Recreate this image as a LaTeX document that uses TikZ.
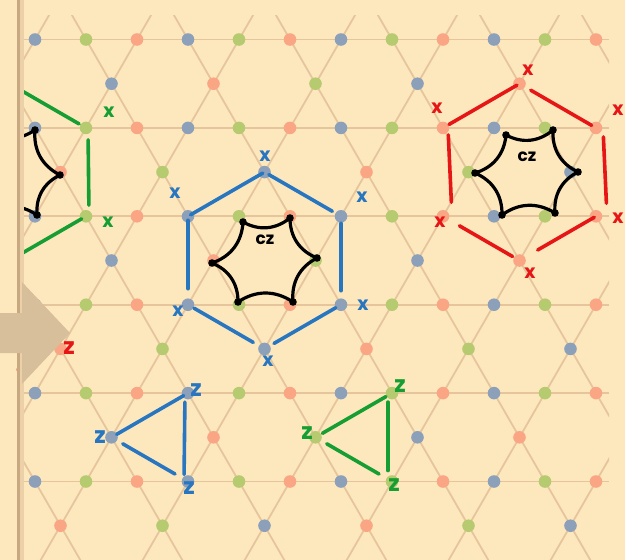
\documentclass[tikz,border=0pt]{standalone}
\usepackage{fontspec}
\newfontfamily\hand{Poppins}
\usetikzlibrary{calc}
\definecolor{bg}{RGB}{253,232,190}
\definecolor{latline}{RGB}{230,197,156}
\definecolor{dotblue}{RGB}{140,160,186}
\definecolor{dotgreen}{RGB}{182,202,112}
\definecolor{dotsalmon}{RGB}{250,166,132}
\definecolor{hblue}{RGB}{40,118,192}
\definecolor{hgreen}{RGB}{22,158,50}
\definecolor{hred}{RGB}{230,22,22}
\definecolor{arrowtan}{RGB}{216,191,156}
\definecolor{borderdark}{RGB}{200,168,128}
\definecolor{bordershade}{RGB}{236,208,168}
\tikzset{
  latl/.style={draw=latline, line width=1.8pt},
  hstroke/.style={line width=3.6pt, line cap=round},
  curvy/.style={draw=black, line width=3.2pt, line cap=round, line join=round},
  bdot/.style={fill=black},
  xlab/.style={font=\hand\bfseries\fontsize{19}{19}\selectfont, inner sep=0pt},
  zlab/.style={font=\hand\bfseries\fontsize{23}{23}\selectfont, inner sep=0pt},
  czlab/.style={font=\hand\bfseries\fontsize{17}{17}\selectfont, inner sep=0pt},
}
\begin{document}
\begin{tikzpicture}[x=1pt,y=-1pt]
\useasboundingbox (0,0) rectangle (625,560);
\fill[bg] (0,0) rectangle (625,560);
\def\A{51}\def\H{88.4}\def\XO{35}\def\YO{39.5}
% ---------------- kagome lattice ----------------
\begin{scope}
\clip (19,15) rectangle (609,560);
\foreach \k in {0,...,5}
  \draw[latl] (19,{\YO+\k*\H}) -- (609,{\YO+\k*\H});
\foreach \p in {-13,-11,...,13}
  \draw[latl] ({\XO+\A*(\p-0.5)},{\YO-0.5*\H}) -- ({\XO+\A*(\p+6.5)},{\YO+6.5*\H});
\foreach \p in {0,2,...,20}
  \draw[latl] ({\XO+\A*(\p+0.5)},{\YO-0.5*\H}) -- ({\XO+\A*(\p-6.5)},{\YO+6.5*\H});
\foreach \k in {0,...,5}{
  \foreach \p in {0,...,11}{
    \pgfmathtruncatemacro\ci{mod(\p,3)}
    \ifcase\ci\def\col{dotblue}\or\def\col{dotgreen}\else\def\col{dotsalmon}\fi
    \fill[\col] ({\XO+\A*\p},{\YO+\k*\H}) circle[radius=6.3pt];
  }
  \foreach \j in {-1,...,6}{
    \pgfmathtruncatemacro\q{mod(\k,2)+2*\j}
    \pgfmathtruncatemacro\ci{mod(\q+30,3)}
    \ifcase\ci\def\col{dotblue}\or\def\col{dotgreen}\else\def\col{dotsalmon}\fi
    \fill[\col] ({\XO+\A*(\q+1.5)},{\YO+(\k+0.5)*\H}) circle[radius=6.3pt];
  }
}
\end{scope}

% ---------------- left (clipped) green hexagon ----------------
\begin{scope}
\clip (19,0) rectangle (625,560);
\coordinate (gT) at (9.5,83.7);
\coordinate (gUR) at (86,127.9);
\coordinate (gLR) at (86,216.3);
\coordinate (gB) at (9.5,260.5);
\draw[hstroke, hgreen, shorten >=8pt] (gT) -- (gUR);
\draw[hstroke, hgreen, shorten <=12pt, shorten >=11pt] ([xshift=2pt]gUR) -- ([xshift=3pt]gLR);
\draw[hstroke, hgreen, shorten <=5pt] (gLR) -- (gB);
\coordinate (k1) at (-16,130);
\coordinate (k2) at (35,130);
\coordinate (k3) at (60,175);
\coordinate (k4) at (37,215);
\coordinate (k5) at (-16,215);
\coordinate (k6) at (-40,173);
\draw[curvy] (k1) to[bend right=34] (k2) to[bend right=34] (k3) to[bend right=34] (k4)
  to[bend right=34] (k5) to[bend right=34] (k6) to[bend right=34] (k1);
\foreach \v in {k2,k3,k4} \fill[bdot] (\v) circle[radius=3.8pt];
\node[czlab] (czl) at (8,158) {cz};
\end{scope}
\node[xlab, text=hgreen] (gx1) at (109,112) {x};
\node[xlab, text=hgreen] (gx2) at (108,222) {x};

% ---------------- blue hexagon ----------------
\coordinate (bT) at (264.5,172.1);
\coordinate (bUL) at (188,216.3);
\coordinate (bUR) at (341,216.3);
\coordinate (bLL) at (188,304.7);
\coordinate (bLR) at (341,304.7);
\coordinate (bB) at (264.5,348.9);
\draw[hstroke, hblue, shorten <=2pt, shorten >=3pt] (bT) -- (bUL);
\draw[hstroke, hblue, shorten <=5pt, shorten >=10pt] (bT) -- (bUR);
\draw[hstroke, hblue, shorten <=4pt, shorten >=16pt] (bUL) -- (bLL);
\draw[hstroke, hblue, shorten <=7pt, shorten >=14pt] (bUR) -- (bLR);
\draw[hstroke, hblue, shorten <=7pt, shorten >=13pt] (bLL) -- (bB);
\draw[hstroke, hblue, shorten <=6pt, shorten >=11pt] (bLR) -- (bB);
\node[xlab, text=hblue] (bx1) at (265,156) {x};
\node[xlab, text=hblue] (bx2) at (175,193) {x};
\node[xlab, text=hblue] (bx3) at (362,197) {x};
\node[xlab, text=hblue] (bx4) at (363,305) {x};
\node[xlab, text=hblue] (bx5) at (178,311) {x};
\node[xlab, text=hblue] (bx6) at (268,361) {x};
\coordinate (c1) at (243,222);
\coordinate (c2) at (290,218);
\coordinate (c3) at (317,258);
\coordinate (c4) at (293,302);
\coordinate (c5) at (238,302);
\coordinate (c6) at (212,263);
\draw[curvy] (c1) to[bend right=34] (c2) to[bend right=34] (c3) to[bend right=34] (c4)
  to[bend right=34] (c5) to[bend right=34] (c6) to[bend right=34] (c1);
\foreach \v in {c1,c2,c3,c4,c5,c6} \fill[bdot] (\v) circle[radius=3.8pt];
\node[czlab] (czb) at (265,240) {cz};

% ---------------- red hexagon ----------------
\coordinate (rT) at (519.5,83.7);
\coordinate (rUL) at (443,127.9);
\coordinate (rUR) at (596,127.9);
\coordinate (rLL) at (443,216.3);
\coordinate (rLR) at (596,216.3);
\coordinate (rB) at (519.5,260.5);
\draw[hstroke, hred, shorten <=3pt, shorten >=7pt] (rT) -- (rUL);
\draw[hstroke, hred, shorten <=13pt, shorten >=5pt] (rT) -- (rUR);
\draw[hstroke, hred, shorten <=7pt, shorten >=14pt] ([xshift=5pt]rUL) -- ([xshift=9pt]rLL);
\draw[hstroke, hred, shorten <=9pt, shorten >=13pt] ([xshift=7pt]rUR) -- ([xshift=11pt]rLR);
\draw[hstroke, hred, shorten <=19pt, shorten >=8pt] (rLL) -- (rB);
\draw[hstroke, hred, shorten <=2pt, shorten >=21pt] (rLR) -- (rB);
\node[xlab, text=hred] (rx1) at (528,70) {x};
\node[xlab, text=hred] (rx2) at (437,108) {x};
\node[xlab, text=hred] (rx3) at (440,222) {x};
\node[xlab, text=hred] (rx4) at (530,273) {x};
\node[xlab, text=hred] (rx5) at (618,110) {x};
\node[xlab, text=hred] (rx6) at (618,218) {x};
\coordinate (d1) at (506,135);
\coordinate (d2) at (553,130);
\coordinate (d3) at (578,172);
\coordinate (d4) at (555,213);
\coordinate (d5) at (502,215);
\coordinate (d6) at (475,173);
\draw[curvy] (d1) to[bend right=34] (d2) to[bend right=34] (d3) to[bend right=34] (d4)
  to[bend right=34] (d5) to[bend right=34] (d6) to[bend right=34] (d1);
\foreach \v in {d1,d2,d3,d4,d5,d6} \fill[bdot] (\v) circle[radius=3.8pt];
\node[czlab] (czr) at (527,157) {cz};

% ---------------- blue triangle ----------------
\coordinate (tL) at (111.5,437.3);
\coordinate (tT) at (188,393.1);
\coordinate (tB) at (188,481.5);
\draw[hstroke, hblue, shorten <=6pt, shorten >=5pt] (tL) -- (tT);
\draw[hstroke, hblue, shorten <=9pt, shorten >=7pt] ([xshift=-3pt]tT) -- ([xshift=-4pt]tB);
\draw[hstroke, hblue, shorten <=13pt, shorten >=15pt] (tL) -- (tB);
\node[zlab, text=hblue] (tz1) at (100,437) {z};
\node[zlab, text=hblue] (tz2) at (196,390) {z};
\node[zlab, text=hblue] (tz3) at (189,488) {z};

% ---------------- green triangle ----------------
\coordinate (uL) at (315.5,437.3);
\coordinate (uT) at (392,393.1);
\coordinate (uB) at (392,481.5);
\draw[hstroke, hgreen, shorten <=8pt, shorten >=7pt] (uL) -- (uT);
\draw[hstroke, hgreen, shorten <=9pt, shorten >=11pt] ([xshift=-4pt]uT) -- ([xshift=-4pt]uB);
\draw[hstroke, hgreen, shorten <=13pt, shorten >=15pt] (uL) -- (uB);
\node[zlab, text=hgreen] (uz1) at (307,433) {z};
\node[zlab, text=hgreen] (uz2) at (400,386) {z};
\node[zlab, text=hgreen] (uz3) at (394,485) {z};

% ---------------- red fragments near arrow ----------------
\node[zlab, text=hred] (rz) at (69,348) {z};
\coordinate (rm1) at (18,370);
\coordinate (rm2) at (23,364);
\draw[hstroke, hred] (rm1) -- (rm2);

% ---------------- border and arrow ----------------
\draw[bordershade, line width=4pt] (22,0) -- (22,560);
\draw[borderdark, line width=2.6pt] (18.5,0) -- (18.5,560);
\fill[arrowtan] (0,313) -- (22,313) -- (22,282) -- (70,333) -- (22,384) -- (22,353) -- (0,353) -- cycle;
\end{tikzpicture}
\end{document}
